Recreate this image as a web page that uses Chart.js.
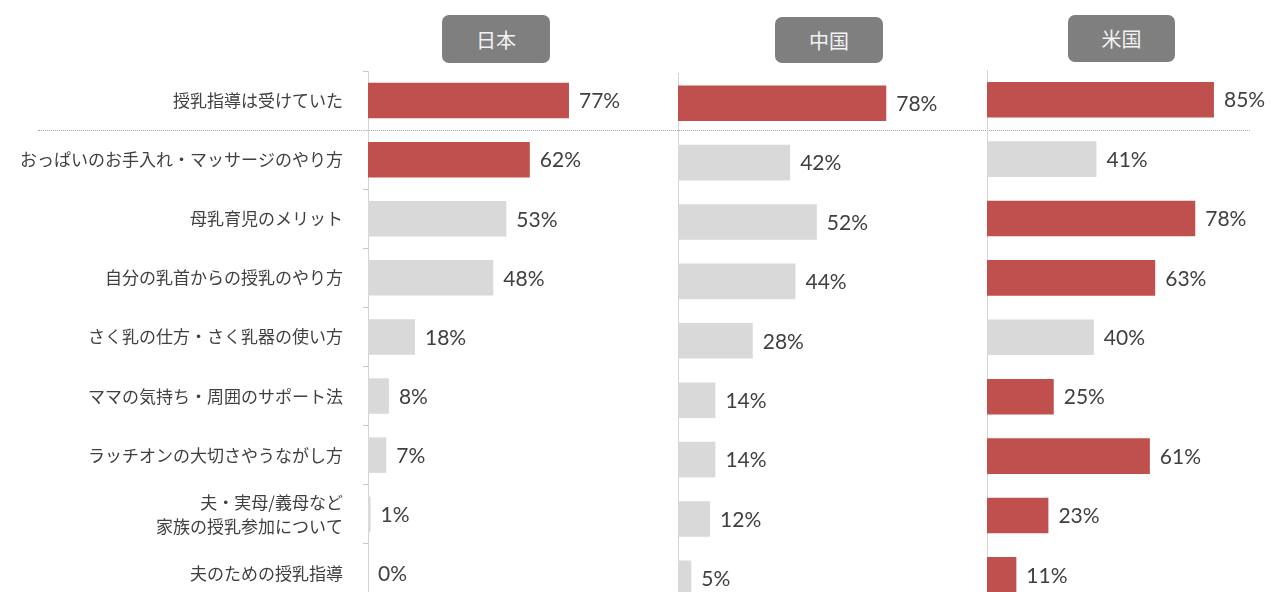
<!DOCTYPE html>
<html>
<head>
<meta charset="utf-8">
<script src="https://cdn.jsdelivr.net/npm/chart.js@4.4.1/dist/chart.umd.min.js"></script>
<style>
html,body{margin:0;padding:0;background:#fff;overflow:hidden}
#wrap{position:relative;width:1271px;height:620px}
#wrap canvas{position:absolute;top:0}
.badge{position:absolute;background:#7f7f7f;color:#f2f2f2;border-radius:7px;font:20px "Noto Sans CJK JP",sans-serif;display:flex;align-items:center;justify-content:center}
#sep{position:absolute;left:38px;width:1212px;height:0;border-top:1px dotted #98a8ba}
</style>
</head>
<body>
<div id="wrap">
	<div id="sep"></div>
	<canvas id="cJP" width="660" height="620" style="left:0px"></canvas>
	<canvas id="cCN" width="320" height="620" style="left:640px"></canvas>
	<canvas id="cUS" width="311" height="620" style="left:960px"></canvas>
	<div class="badge" style="left:442px;top:15px;width:108px;height:48px">日本</div>
	<div class="badge" style="left:775px;top:17px;width:108px;height:46px">中国</div>
	<div class="badge" style="left:1068px;top:15px;width:107px;height:47px">米国</div>
</div>
<script>
// survey items, top to bottom
const categories = [
	'授乳指導は受けていた',
	'おっぱいのお手入れ・マッサージのやり方',
	'母乳育児のメリット',
	'自分の乳首からの授乳のやり方',
	'さく乳の仕方・さく乳器の使い方',
	'ママの気持ち・周囲のサポート法',
	'ラッチオンの大切さやうながし方',
	['夫・実母/義母など', '家族の授乳参加について'],
	'夫のための授乳指導'
]
const japan = [77, 62, 53, 48, 18, 8, 7, 1, 0]
const china = [78, 42, 52, 44, 28, 14, 14, 12, 5]
const usa = [85, 41, 78, 63, 40, 25, 61, 23, 11]
// which bars are highlighted in red
const hiJapan = [1, 1, 0, 0, 0, 0, 0, 0, 0]
const hiChina = [1, 0, 0, 0, 0, 0, 0, 0, 0]
const hiUsa = [1, 0, 1, 1, 0, 1, 1, 1, 1]

const RED = '#c0504d', GRAY = '#d9d9d9'
const JP_FONT = '"Noto Sans CJK JP", sans-serif'

const valueLabels = {
	id: 'valueLabels',
	afterDatasetsDraw(chart){
		const ctx = chart.ctx
		const meta = chart.getDatasetMeta(0)
		const data = chart.data.datasets[0].data
		ctx.save()
		ctx.font = '21px Lato, "Open Sans", sans-serif'
		ctx.fillStyle = '#404040'
		ctx.textAlign = 'left'; ctx.textBaseline = 'middle'
		meta.data.forEach((bar, i) => { ctx.fillText(data[i] + '%', bar.x + 10, bar.y + 1) })
		ctx.restore()
	}
}

function makePanel(p){
	const n = categories.length
	return new Chart(document.getElementById(p.id), {
		type: 'bar',
		data: { labels: categories, datasets: [{
			data: p.values,
			backgroundColor: p.values.map((_, i) => p.hi[i] ? RED : GRAY),
			barPercentage: 0.6, categoryPercentage: 1, borderWidth: 0
		}] },
		options: {
			indexAxis: 'y', responsive: false, animation: false,
			layout: { padding: { top: p.top, bottom: 620 - p.top - n * p.step, left: 0, right: p.width - p.axisX - p.plotW } },
			plugins: { legend: { display: false }, tooltip: { enabled: false } },
			scales: {
				x: { display: false, min: 0, max: 100 },
				y: {
					afterFit: s => { s.width = p.axisX; s.paddingTop = 0; s.paddingBottom = 0 },
					grid: { display: p.ticks, drawOnChartArea: false, drawTicks: true, tickLength: 5, color: '#c8c8c8', offset: true },
					border: { display: true, color: '#d4d4d4', width: 1 },
					ticks: { display: p.ticks, color: '#404040', padding: 20, font: { family: JP_FONT, size: 17, lineHeight: 1.4 } }
				}
			}
		},
		plugins: [valueLabels]
	})
}

// axisX is relative to each canvas
const jp = makePanel({ id: 'cJP', values: japan, hi: hiJapan, width: 660, axisX: 368, plotW: 261, top: 71, step: 59.1, ticks: true })
makePanel({ id: 'cCN', values: china, hi: hiChina, width: 320, axisX: 38, plotW: 267, top: 73.5, step: 59.4, ticks: false })
makePanel({ id: 'cUS', values: usa, hi: hiUsa, width: 311, axisX: 27, plotW: 267, top: 70, step: 59.4, ticks: false })

// dotted separator under the first row
const ys = jp.scales.y
document.getElementById('sep').style.top = Math.round((ys.getPixelForValue(0) + ys.getPixelForValue(1)) / 2) + 'px'
</script>
</body>
</html>
